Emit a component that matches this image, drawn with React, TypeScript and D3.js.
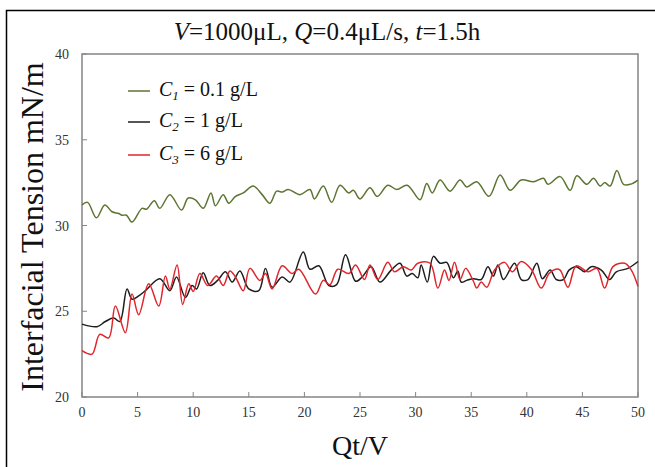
import React from "react";
import * as d3 from "d3";

const xTicks = [0, 5, 10, 15, 20, 25, 30, 35, 40, 45, 50];
const yTicks = [20, 25, 30, 35, 40];

const c1X = [0, 0.5, 1.3, 2.05, 2.7, 3.3, 3.6, 4.0, 4.5, 5.4, 5.8, 6.5, 7.0, 7.9, 8.95, 9.55, 10.2, 10.9, 11.6, 12.0, 12.7, 13.2, 13.8, 14.5, 15.4, 16.2, 16.9, 17.5, 18.0, 18.55, 19.6, 20.5, 20.9, 21.7, 22.45, 23.2, 24.0, 24.4, 25.0, 25.9, 26.55, 27.5, 28.3, 29.25, 30.4, 31.0, 31.5, 32.2, 33.1, 34.0, 34.6, 35.5, 36.6, 37.6, 38.5, 39.5, 40.6, 41.5, 41.9, 43.0, 43.9, 44.5, 45.4, 46.0, 46.6, 47.0, 47.5, 48.1, 48.7, 49.3, 50];
const c1Y = [31.2, 31.35, 30.45, 31.2, 30.8, 30.7, 30.6, 30.6, 30.2, 31.0, 30.95, 31.45, 31.0, 31.8, 30.9, 31.6, 31.5, 31.0, 31.9, 31.15, 31.8, 31.3, 31.7, 31.9, 32.3, 31.8, 31.3, 32.0, 31.95, 32.1, 31.8, 32.1, 31.55, 32.3, 31.35, 32.35, 31.9, 32.05, 31.55, 32.2, 31.7, 32.35, 32.1, 32.35, 31.5, 32.45, 31.9, 32.65, 32.0, 32.65, 32.25, 32.55, 31.7, 32.95, 32.05, 32.65, 32.55, 32.75, 32.4, 32.85, 32.05, 32.9, 32.4, 32.75, 32.3, 32.5, 32.3, 33.2, 32.4, 32.4, 32.65];

const c2X = [0, 1.35, 2.1, 2.85, 3.4, 4.05, 4.5, 5.1, 5.7, 7.0, 7.9, 8.5, 9.3, 9.9, 10.3, 10.9, 11.5, 12.2, 12.9, 13.5, 14.2, 15.0, 15.9, 16.5, 17.1, 18.0, 18.7, 19.9, 20.5, 21.3, 22.2, 22.9, 23.7, 24.6, 25.2, 26.0, 26.8, 27.8, 28.6, 29.2, 29.7, 30.2, 30.5, 31.05, 31.6, 32.2, 32.8, 33.4, 33.8, 34.1, 34.6, 35.2, 35.9, 36.5, 37.0, 37.4, 37.9, 38.9, 39.5, 40.1, 40.9, 41.4, 42.1, 42.65, 43.3, 43.8, 44.45, 45.2, 45.8, 46.7, 47.45, 48.05, 49.1, 50];
const c2Y = [24.25, 24.1, 24.4, 24.6, 24.4, 26.3, 25.7, 25.9, 26.2, 26.9, 26.2, 27.0, 25.8, 26.5, 26.3, 27.25, 26.5, 26.8, 27.3, 26.7, 27.35, 26.3, 26.2, 27.5, 26.4, 27.0, 26.7, 28.45, 27.45, 27.65, 26.5, 26.55, 28.3, 26.75, 27.0, 27.6, 26.7, 27.4, 27.8, 27.05, 27.2, 26.95, 27.7, 26.7, 28.2, 27.8, 27.85, 26.95, 27.35, 26.7, 26.8, 26.9, 26.85, 27.6, 27.05, 27.7, 26.85, 27.8, 26.85, 26.85, 27.8, 26.9, 27.4, 26.85, 26.85, 27.4, 27.6, 27.3, 27.6, 27.4, 26.85, 27.3, 27.5, 27.9];

const c3X = [0, 0.9, 1.6, 2.4, 3.0, 3.9, 4.5, 5.1, 6.0, 6.9, 7.5, 7.9, 8.55, 9.05, 9.6, 10.0, 10.6, 11.3, 12.1, 12.7, 13.3, 13.8, 14.5, 15.1, 16.0, 16.5, 17.1, 18.0, 18.9, 19.5, 21.0, 21.7, 22.3, 23.0, 24.0, 24.6, 25.4, 25.9, 26.6, 27.5, 28.1, 28.9, 29.6, 30.2, 31.3, 32.0, 32.6, 33.0, 33.5, 34.0, 34.5, 35.2, 35.5, 35.9, 36.4, 37.1, 38.0, 38.7, 39.5, 40.4, 41.3, 42.0, 42.6, 43.0, 43.7, 44.45, 45.5, 46.3, 47.0, 47.75, 48.8, 49.4, 50];
const c3Y = [22.7, 22.5, 23.65, 23.45, 25.3, 23.75, 26.0, 24.8, 26.6, 25.3, 27.05, 26.3, 27.7, 25.4, 26.6, 26.15, 27.2, 26.5, 27.05, 26.5, 27.35, 27.0, 26.2, 27.5, 26.8, 27.2, 26.3, 27.65, 27.2, 27.45, 26.0, 26.8, 26.55, 27.45, 27.2, 27.7, 26.85, 27.7, 26.85, 27.85, 27.3, 27.6, 27.4, 27.8, 27.8, 26.35, 27.4, 26.8, 27.85, 26.85, 27.5, 26.75, 26.35, 26.7, 26.4, 27.4, 27.85, 27.3, 27.9, 27.45, 26.35, 27.2, 27.45, 27.4, 26.4, 27.65, 27.3, 27.5, 26.35, 27.6, 27.8, 27.4, 26.45];

const seriesNames = ["1", "2", "3"];
const seriesLabels = ["= 0.1 g/L", "= 1 g/L", "= 6 g/L"];
const seriesColors = ["#5d7532", "#1e1e1e", "#e0262c"];

const W = 655;
const H = 467;
const M = { left: 82, right: 638, top: 54, bottom: 397 };
const FONT = "Liberation Serif";
const AXIS = "#858585";

export default function App() {
  const x = d3.scaleLinear().domain([0, 50]).range([M.left, M.right]);
  const y = d3.scaleLinear().domain([20, 40]).range([M.bottom, M.top]);
  const line = d3
    .line<[number, number]>()
    .x((d) => x(d[0]))
    .y((d) => y(d[1]))
    .curve(d3.curveCatmullRom.alpha(0.5));

  const series = [
    { xs: c1X, ys: c1Y },
    { xs: c2X, ys: c2Y },
    { xs: c3X, ys: c3Y },
  ];

  const legendY = [91, 122, 155];

  return (
    <svg
      width={W}
      height={H}
      style={{ position: "absolute", left: 0, top: 0, background: "#fff" }}
      fontFamily={FONT}
    >
      <rect x={6.5} y={10.5} width={700} height={500} fill="none" stroke="#000" strokeWidth={1.5} />

      <text x={327} y={40} textAnchor="middle" fontSize={25} fill="#111">
        <tspan fontStyle="italic">V</tspan>
        <tspan>=1000μL, </tspan>
        <tspan fontStyle="italic">Q</tspan>
        <tspan>=0.4μL/s, </tspan>
        <tspan fontStyle="italic">t</tspan>
        <tspan>=1.5h</tspan>
      </text>

      <rect
        x={M.left}
        y={M.top}
        width={M.right - M.left}
        height={M.bottom - M.top}
        fill="none"
        stroke={AXIS}
        strokeWidth={1.5}
      />

      {xTicks.map((t) => (
        <g key={"x" + t}>
          <line x1={x(t)} x2={x(t)} y1={M.bottom} y2={M.bottom - 5} stroke={AXIS} strokeWidth={1} />
          <text x={x(t)} y={417} textAnchor="middle" fontSize={14} fill="#333">
            {t}
          </text>
        </g>
      ))}
      {yTicks.map((t) => (
        <g key={"y" + t}>
          <line x1={M.left} x2={M.left + 5} y1={y(t)} y2={y(t)} stroke={AXIS} strokeWidth={1} />
          <text x={69} y={y(t) + 5} textAnchor="end" fontSize={14} fill="#333">
            {t}
          </text>
        </g>
      ))}

      {series.map((s, i) => (
        <path
          key={"s" + i}
          d={line(s.xs.map((v, j) => [v, s.ys[j]] as [number, number])) || ""}
          fill="none"
          stroke={seriesColors[i]}
          strokeWidth={1.5}
        />
      ))}

      {seriesNames.map((n, i) => (
        <g key={"l" + i}>
          <line x1={128} x2={150} y1={legendY[i]} y2={legendY[i]} stroke={seriesColors[i]} strokeWidth={1.5} />
          <text x={159} y={legendY[i] + 5} fontSize={20} fill="#111">
            <tspan fontStyle="italic">C</tspan>
            <tspan fontStyle="italic" fontSize={13} dy={4}>
              {n}
            </tspan>
            <tspan dy={-4}>{" " + seriesLabels[i]}</tspan>
          </text>
        </g>
      ))}

      <text
        transform={`translate(43, 227) rotate(-90)`}
        textAnchor="middle"
        fontSize={32}
        fill="#111"
      >
        Interfacial Tension mN/m
      </text>

      <text x={360} y={455} textAnchor="middle" fontSize={28} fill="#111">
        Qt/V
      </text>
    </svg>
  );
}
